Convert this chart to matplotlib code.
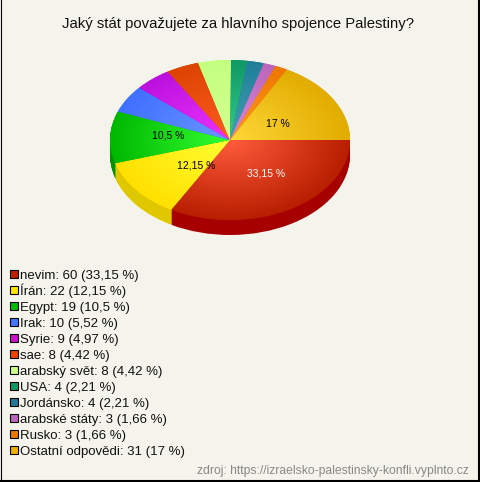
import numpy as np
import matplotlib
matplotlib.use("Agg")
import matplotlib.pyplot as plt
from matplotlib.colors import LinearSegmentedColormap
from matplotlib.patches import Rectangle

W, H = 480, 482
BG = "#f5f4ec"

title = "Jaký stát považujete za hlavního spojence Palestiny?"
source = "zdroj: https://izraelsko-palestinsky-konfli.vyplnto.cz"

names = ["nevim", "Írán", "Egypt", "Irak", "Syrie", "sae", "arabský svět", "USA",
         "Jordánsko", "arabské státy", "Rusko", "Ostatní odpovědi"]
counts = [60, 22, 19, 10, 9, 8, 8, 4, 4, 3, 3, 31]
shares = ["33,15", "12,15", "10,5", "5,52", "4,97", "4,42", "4,42", "2,21",
          "2,21", "1,66", "1,66", "17"]

legend_cols = ["#c01f00", "#ffe600", "#00bb00", "#4477ff", "#cc11cc", "#ee4400",
               "#ccff88", "#119966", "#227799", "#bb66bb", "#ee7700", "#eeb000"]
inner_cols = ["#ff5c3c", "#ffff33", "#33ff33", "#6a96ff", "#ee33ff", "#ff5c22",
              "#d4ff90", "#33cc88", "#44a0b0", "#dd88dd", "#ff9922", "#ffd838"]
outer_cols = ["#b81e00", "#ffe000", "#00b800", "#4070ff", "#bb11dd", "#dd4400",
              "#c4ff80", "#119966", "#1f7f99", "#bb66bb", "#ee7700", "#e2ac00"]
side_cols = ["#a60000", "#e0c800", "#009000", "#3355bb", "#990099", "#bb3300",
             "#99cc66", "#0c7750", "#185a70", "#8c4c8c", "#b35900", "#b38600"]

# slice labels, only the four large slices carry one
pie_labels = ["33,15 %", "12,15 %", "10,5 %", "17 %"]
pie_label_x = [266, 196, 168, 278]
pie_label_y = [174, 165, 136, 124]
pie_label_col = ["white", "black", "black", "black"]

plt.rcParams["font.family"] = ["Liberation Sans", "DejaVu Sans"]

fig = plt.figure(figsize=(W / 100, H / 100), dpi=100, facecolor=BG)

# pie axes: circle of radius 1 squashed to a 120x80 px ellipse around (230, 140)
ax = fig.add_axes([0, 0, 1, 1])
ax.set_facecolor("none")
depth = 15 / 80

for level in np.linspace(depth, 0.0, 16)[:-1]:
    ax.pie(counts, colors=side_cols, startangle=0, counterclock=False,
           center=(0, -level), radius=1, frame=True)

wedges, _ = ax.pie(counts, colors=outer_cols, startangle=0, counterclock=False,
                   center=(0, 0), radius=1, frame=True)

gx, gy = np.meshgrid(np.linspace(-1, 1, 300), np.linspace(-1, 1, 300))
dist = np.clip(np.hypot(gx, gy), 0, 1)
for wedge, c1, c2 in zip(wedges, inner_cols, outer_cols):
    cmap = LinearSegmentedColormap.from_list("grad", [c1, c2])
    im = ax.imshow(dist, cmap=cmap, vmin=0, vmax=1, extent=(-1, 1, -1, 1),
                   origin="lower", aspect="auto", interpolation="bilinear", zorder=3)
    im.set_clip_path(wedge)

ax.set_aspect("auto")
ax.set_xlim(-230 / 120, (W - 230) / 120)
ax.set_ylim((140 - H) / 80, 140 / 80)
ax.set_xticks([])
ax.set_yticks([])
ax.axis("off")

# overlay in pixel coordinates for the texts and the legend
ov = fig.add_axes([0, 0, 1, 1])
ov.set_xlim(0, W)
ov.set_ylim(H, 0)
ov.axis("off")

ov.text(238, 28, title, fontsize=10.75, ha="center", va="baseline", color="#111111")

for txt, x, y, col in zip(pie_labels, pie_label_x, pie_label_y, pie_label_col):
    ov.text(x, y, txt, fontsize=7.5, ha="center", va="center", color=col)

for i, (n, c, s) in enumerate(zip(names, counts, shares)):
    y = 274 + 16 * i
    ov.add_patch(Rectangle((9.5, y - 4), 8, 8, facecolor=legend_cols[i],
                           edgecolor="black", linewidth=0.8))
    ov.text(20, y + 4.5, f"{n}: {c} ({s} %)", fontsize=9.55, ha="left", va="baseline",
            color="#111111")

ov.text(469, 474, source, fontsize=8.78, ha="right", va="baseline", color="#888888")

# frame: thin on the left, heavier on the right and at the bottom, none on top
ov.plot([0.5, 0.5], [0, H], color="black", linewidth=0.8)
ov.plot([W - 1, W - 1], [0, H], color="black", linewidth=1.5)
ov.plot([0, W], [H - 1, H - 1], color="black", linewidth=1.5)

fig.savefig("out.png", dpi=100, facecolor=BG)
